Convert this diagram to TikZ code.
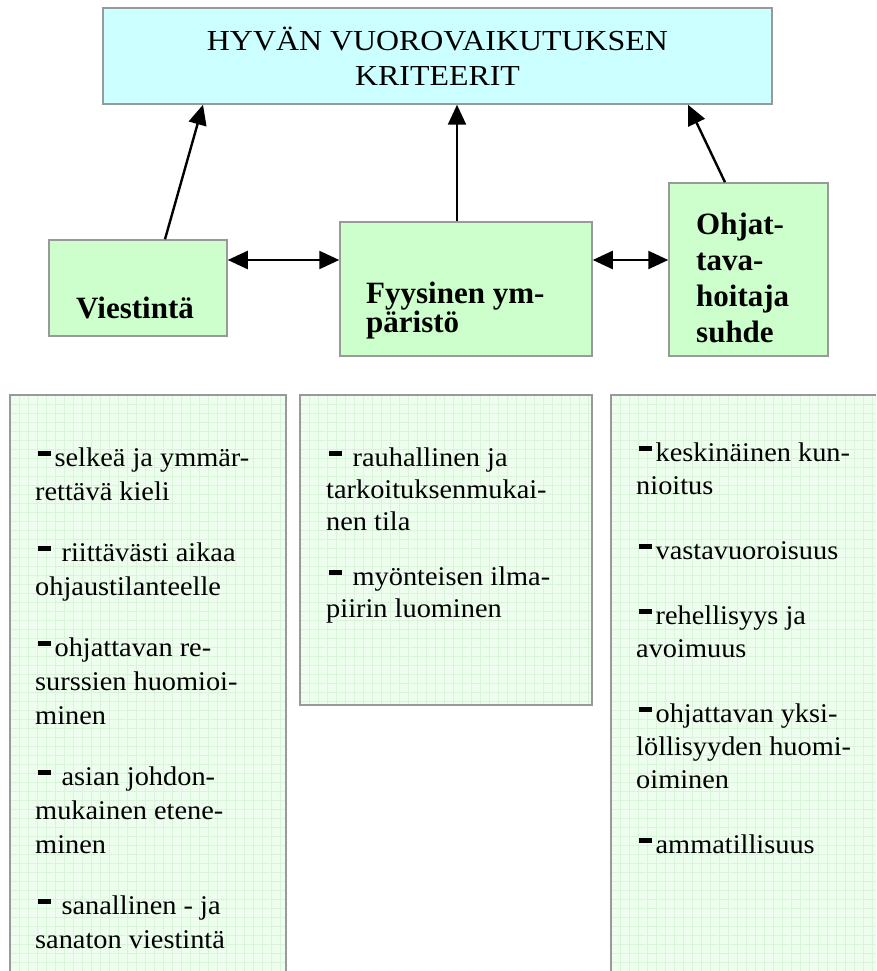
\documentclass[tikz,border=0pt]{standalone}
\usepackage{fontspec}
\setmainfont{Liberation Serif}
\newfontfamily\bodyfont{Liberation Serif}[FakeStretch=1.05]
\newfontfamily\titlefont{Liberation Serif}[FakeStretch=1.1]
\usetikzlibrary{arrows.meta}
\definecolor{titlefill}{HTML}{CCFFFF}
\definecolor{boxfill}{HTML}{CCFFCC}
\definecolor{boxline}{HTML}{999999}
\definecolor{gridfill}{HTML}{EEFEEE}
\definecolor{gridline}{HTML}{DAF4DA}
\newcommand\mydash{\rule[0.36em]{0.46em}{0.18em}}
\newcommand\dsp{\hspace{3pt}\mydash\hspace{4pt}}
\newcommand\dwide{\hspace{3pt}\mydash\hspace{11pt}}
\newcommand\gridpanel[4]{%
  \fill[gridfill] (#1,#2) rectangle (#3,#4);
  \begin{scope}
    \clip (#1,#2) rectangle (#3,#4);
    \foreach \gi in {0,...,66} {
      \draw[gridline,line width=0.8pt] (#1+9*\gi,#2) -- (#1+9*\gi,#4);
      \draw[gridline,line width=0.8pt] (#1,#2+9*\gi) -- (#3,#2+9*\gi);
    }
  \end{scope}}
\begin{document}
\begin{tikzpicture}[x=1pt,y=-1pt,
  box/.style={draw=boxline,line width=1.5pt,inner sep=0pt},
  greenbox/.style={box,fill=boxfill},
  boldtext/.style={inner sep=0pt,font=\fontsize{31}{36}\selectfont\bfseries,anchor=base west},
  listtext/.style={inner sep=0pt,font=\bodyfont\fontsize{27}{30}\selectfont,anchor=base west},
  titletext/.style={inner sep=0pt,font=\titlefont\fontsize{29}{35}\selectfont,anchor=base},
  arr/.style={line width=2.4pt,-{Triangle[length=20pt,width=18pt]}},
  darr/.style={line width=2.4pt,{Triangle[length=20pt,width=18pt]}-{Triangle[length=20pt,width=18pt]}},
  panel/.style={draw=boxline,line width=1.5pt}
]
\fill[white] (0,0) rectangle (876,971);
\useasboundingbox (0,0) rectangle (876,971);

% top box
\node[box,fill=titlefill,minimum width=669pt,minimum height=96pt] (title) at (437.5,56) {};
\node[titletext] (t1) at (437.5,51) {HYVÄN VUOROVAIKUTUKSEN};
\node[titletext] (t2) at (437.5,86) {KRITEERIT};

% green boxes
\node[greenbox,minimum width=178pt,minimum height=96pt] (viest) at (138,288) {};
\node[boldtext] (viestT) at (76,318) {Viestintä};

\node[greenbox,minimum width=252pt,minimum height=134pt] (fyys) at (466,289) {};
\node[boldtext] (fyysA) at (366,303) {Fyysinen ym-};
\node[boldtext] (fyysB) at (366,332) {päristö};

\node[greenbox,minimum width=159pt,minimum height=173pt] (ohj) at (748.5,269.5) {};
\node[boldtext] (ohjA) at (696,234) {Ohjat-};
\node[boldtext] (ohjB) at (696,270) {tava-};
\node[boldtext] (ohjC) at (696,306) {hoitaja};
\node[boldtext] (ohjD) at (696,342) {suhde};

% arrows
\coordinate (arow) at (0,260);
\draw[darr] (viest.east |- arow) -- (fyys.west |- arow);
\draw[darr] (fyys.east |- arow) -- (ohj.west |- arow);
\draw[arr] ([xshift=27pt]viest.north) -- ([xshift=-234.5pt]title.south);
\draw[arr] ([xshift=-9pt]fyys.north) -- ([xshift=-9pt]fyys.north |- title.south);
\draw[arr] ([xshift=-23.5pt]ohj.north) -- ([xshift=250.5pt]title.south);

% bottom panels
\gridpanel{10}{395}{286}{971}
\draw[panel] (10,971) -- (10,395) -- (286,395) -- (286,971);
\gridpanel{300}{395}{592}{705}
\draw[panel] (300,395) rectangle (592,705);
\gridpanel{611}{395}{876}{971}
\draw[panel] (611,971) -- (611,395) -- (876,395);

\foreach \yy/\lab [count=\i] in {
  466/{\dsp selkeä ja ymmär-},
  500/{rettävä kieli},
  561/{\dwide riittävästi aikaa},
  595/{ohjaustilanteelle},
  656/{\dsp ohjattavan re-},
  690/{surssien huomioi-},
  724/{minen},
  785/{\dwide asian johdon-},
  819/{mukainen etene-},
  853/{minen},
  914/{\dwide sanallinen - ja},
  948/{sanaton viestintä}}
  \node[listtext] (L\i) at (35,\yy) {\lab};

\foreach \yy/\lab [count=\i] in {
  466/{\dwide rauhallinen ja},
  498/{tarkoituksenmukai-},
  530/{nen tila},
  585/{\dwide myönteisen ilma-},
  617/{piirin luominen}}
  \node[listtext] (M\i) at (326,\yy) {\lab};

\foreach \yy/\lab [count=\i] in {
  461/{\dsp keskinäinen kun-},
  494/{nioitus},
  559/{\dsp vastavuoroisuus},
  624/{\dsp rehellisyys ja},
  657/{avoimuus},
  722/{\dsp ohjattavan yksi-},
  755/{löllisyyden huomi-},
  788/{oiminen},
  853/{\dsp ammatillisuus}}
  \node[listtext] (R\i) at (636,\yy) {\lab};
\end{tikzpicture}
\end{document}
